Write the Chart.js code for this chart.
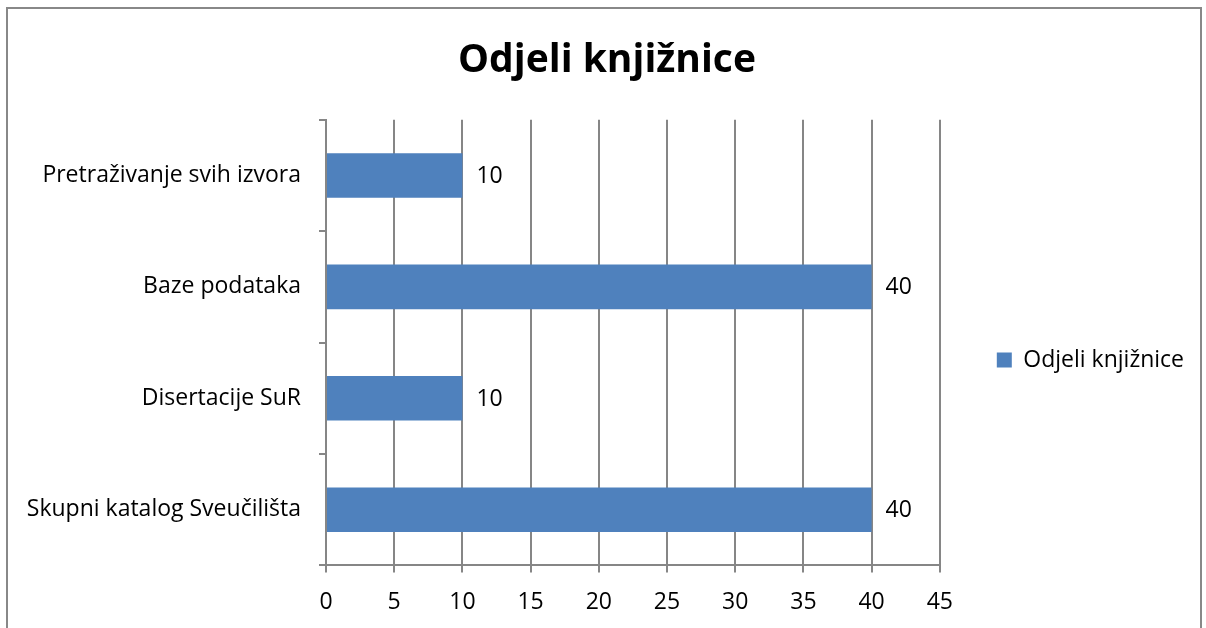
<!DOCTYPE html>
<html>
<head>
<meta charset="utf-8">
<script src="https://cdn.jsdelivr.net/npm/chart.js@4"></script>
<style>
  html, body { margin: 0; padding: 0; background: #fff; }
  #frame { position: absolute; left: 6px; top: 7px; width: 1196px; height: 630px;
           border: 2px solid #888; box-sizing: border-box; }
  #myChart { position: absolute; left: 0; top: 0; }
</style>
</head>
<body>
<div id="frame"></div>
<canvas id="myChart" width="1206" height="628"></canvas>
<script>
// data
const categories = ['Pretraživanje svih izvora', 'Baze podataka', 'Disertacije SuR', 'Skupni katalog Sveučilišta'];
const values = [10, 40, 10, 40];
const seriesName = 'Odjeli knjižnice';
const xTicks = [0, 5, 10, 15, 20, 25, 30, 35, 40, 45];

const FONT = "'Open Sans', 'Liberation Sans', sans-serif";
const gridColor = '#868686';

// value labels right of each bar
const barLabels = {
  id: 'barLabels',
  afterDatasetsDraw(chart) {
    const c = chart.ctx;
    const meta = chart.getDatasetMeta(0);
    c.save();
    c.font = '23px ' + FONT;
    c.fillStyle = '#000';
    c.textAlign = 'left';
    c.textBaseline = 'middle';
    meta.data.forEach((bar, i) => {
      c.fillText(values[i], bar.x + 14, bar.y + 1);
    });
    c.restore();
  }
};

const ctx = document.getElementById('myChart').getContext('2d');
const myChart = new Chart(ctx, {
  type: 'bar',
  data: {
    labels: categories,
    datasets: [{
      label: seriesName,
      data: values,
      backgroundColor: '#4f81bd',
      barPercentage: 0.4,
      categoryPercentage: 1
    }]
  },
  options: {
    indexAxis: 'y',
    responsive: false,
    animation: false,
    layout: { padding: { left: 20, right: 12, top: 0, bottom: -4 } },
    plugins: {
      title: {
        display: true,
        text: seriesName,
        color: '#000',
        font: { family: FONT, size: 39, weight: 'bold' },
        padding: { top: 37, bottom: 36 }
      },
      legend: {
        position: 'right',
        title: { display: true, text: ' ', font: { size: 10 }, padding: { top: 76, bottom: 0 } },
        labels: {
          color: '#000',
          font: { family: FONT, size: 23 },
          boxWidth: 15,
          boxHeight: 15,
          padding: 57
        }
      },
      tooltip: { enabled: false }
    },
    scales: {
      x: {
        min: 0,
        max: 45,
        afterBuildTicks: (axis) => { axis.ticks = xTicks.map(v => ({ value: v })); },
        ticks: { color: '#000', font: { family: FONT, size: 23 }, padding: 16 },
        grid: { color: gridColor, lineWidth: 2, tickLength: 7 },
        border: { color: gridColor, width: 2 }
      },
      y: {
        afterFit: (axis) => { axis.width = 306; },
        ticks: { color: '#000', font: { family: FONT, size: 23 }, padding: 18 },
        grid: { color: gridColor, lineWidth: 2, drawOnChartArea: false, tickLength: 7 },
        border: { color: gridColor, width: 2 }
      }
    }
  },
  plugins: [barLabels]
});
</script>
</body>
</html>
